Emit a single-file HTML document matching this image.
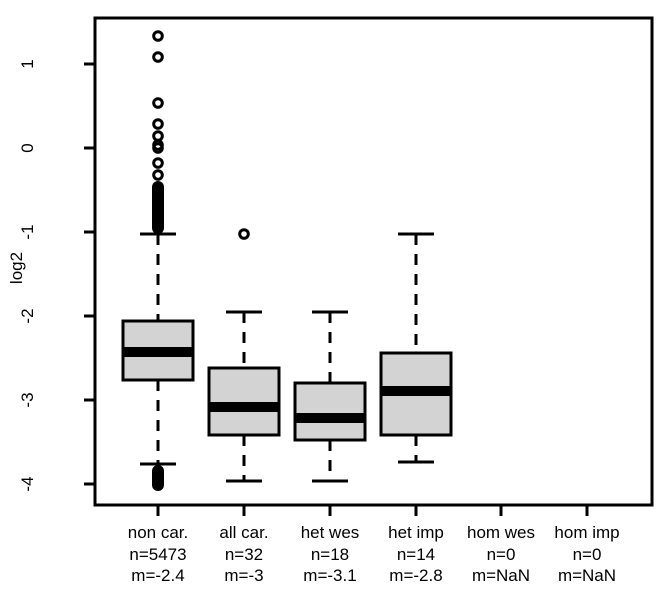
<!DOCTYPE html>
<html><head><meta charset="utf-8"><style>body{margin:0;background:#fff}</style></head><body>
<svg width="666" height="602" xmlns="http://www.w3.org/2000/svg" font-family="Liberation Sans, sans-serif">
<rect x="95" y="18" width="557" height="487" fill="none" stroke="#000" stroke-width="3"/>
<g stroke="#000" stroke-width="3">
<line x1="84" y1="64" x2="95" y2="64"/><line x1="84" y1="148" x2="95" y2="148"/>
<line x1="84" y1="232" x2="95" y2="232"/><line x1="84" y1="316" x2="95" y2="316"/>
<line x1="84" y1="400" x2="95" y2="400"/><line x1="84" y1="484" x2="95" y2="484"/>
<line x1="158" y1="505" x2="158" y2="516"/><line x1="244" y1="505" x2="244" y2="516"/>
<line x1="330" y1="505" x2="330" y2="516"/><line x1="416" y1="505" x2="416" y2="516"/>
<line x1="501" y1="505" x2="501" y2="516"/><line x1="587" y1="505" x2="587" y2="516"/>
</g>
<g font-size="17" text-anchor="middle">
<text transform="translate(33,64) rotate(-90)">1</text>
<text transform="translate(33,148) rotate(-90)">0</text>
<text transform="translate(33,232) rotate(-90)">-1</text>
<text transform="translate(33,316) rotate(-90)">-2</text>
<text transform="translate(33,400) rotate(-90)">-3</text>
<text transform="translate(33,484) rotate(-90)">-4</text>
<text transform="translate(22,268) rotate(-90)">log2</text>
</g>
<g font-size="17" text-anchor="middle">
<text x="158" y="538">non car.</text><text x="158" y="560">n=5473</text><text x="158" y="581">m=-2.4</text>
<text x="244" y="538">all car.</text><text x="244" y="560">n=32</text><text x="244" y="581">m=-3</text>
<text x="330" y="538">het wes</text><text x="330" y="560">n=18</text><text x="330" y="581">m=-3.1</text>
<text x="416" y="538">het imp</text><text x="416" y="560">n=14</text><text x="416" y="581">m=-2.8</text>
<text x="501" y="538">hom wes</text><text x="501" y="560">n=0</text><text x="501" y="581">m=NaN</text>
<text x="587" y="538">hom imp</text><text x="587" y="560">n=0</text><text x="587" y="581">m=NaN</text>
</g>
<g stroke="#000" stroke-width="3" fill="none">
<g stroke-dasharray="11,9">
<line x1="158" y1="234" x2="158" y2="321"/><line x1="158" y1="380" x2="158" y2="464"/>
<line x1="244" y1="312" x2="244" y2="368"/><line x1="244" y1="435" x2="244" y2="481"/>
<line x1="330" y1="312" x2="330" y2="383"/><line x1="330" y1="440" x2="330" y2="481"/>
<line x1="416" y1="234" x2="416" y2="353"/><line x1="416" y1="435" x2="416" y2="462"/>
</g>
<line x1="140" y1="234" x2="176" y2="234"/><line x1="140" y1="464" x2="176" y2="464"/>
<line x1="226" y1="312" x2="262" y2="312"/><line x1="226" y1="481" x2="262" y2="481"/>
<line x1="312" y1="312" x2="348" y2="312"/><line x1="312" y1="481" x2="348" y2="481"/>
<line x1="398" y1="234" x2="434" y2="234"/><line x1="398" y1="462" x2="434" y2="462"/>
</g>
<g stroke="#000" stroke-width="3" fill="#d3d3d3">
<rect x="123" y="321" width="70" height="59"/>
<rect x="209" y="368" width="70" height="67"/>
<rect x="295" y="383" width="70" height="57"/>
<rect x="381" y="353" width="70" height="82"/>
</g>
<g stroke="#000" stroke-width="10">
<line x1="123" y1="352" x2="193" y2="352"/>
<line x1="209" y1="407" x2="279" y2="407"/>
<line x1="295" y1="418" x2="365" y2="418"/>
<line x1="381" y1="391" x2="451" y2="391"/>
</g>
<g stroke="#000" stroke-width="3" fill="none">
<circle cx="158" cy="36" r="4.3"/><circle cx="158" cy="57" r="4.3"/><circle cx="158" cy="103" r="4.3"/>
<circle cx="158" cy="124" r="4.3"/><circle cx="158" cy="136" r="4.3"/><circle cx="158" cy="145" r="4.3"/>
<circle cx="158" cy="148" r="4.3"/><circle cx="158" cy="163" r="4.3"/><circle cx="158" cy="175" r="4.3"/>
<circle cx="244" cy="234" r="4.3"/>
</g>
<rect x="152" y="181" width="12" height="53" rx="6" fill="#000"/>
<rect x="152" y="465" width="12" height="26" rx="6" fill="#000"/>
</svg>
</body></html>
